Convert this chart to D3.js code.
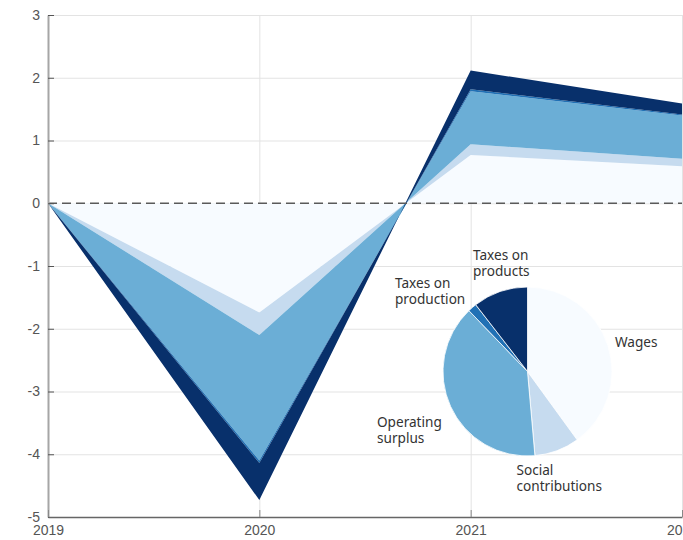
<!DOCTYPE html>
<html>
<head>
<meta charset="utf-8">
<script src="https://cdn.jsdelivr.net/npm/d3@7"></script>
<style>
  body { margin: 0; background: #fff; }
  svg { display: block; font-family: "Noto Sans", "Open Sans", sans-serif; }
</style>
</head>
<body>
<svg id="chart" width="683" height="540"></svg>
<script>
// contributions to GDP growth, percentage points
var years = [2019, 2020, 2021, 2022];
var wages = [0, -1.74, 0.77, 0.59];
var socialContributions = [0, -0.36, 0.17, 0.12];
var operatingSurplus = [0, -2.00, 0.845, 0.69];
var taxesOnProduction = [0, -0.04, 0.03, 0.015];
var taxesOnProducts = [0, -0.59, 0.30, 0.175];

var seriesNames = ["Wages", "Social contributions", "Operating surplus", "Taxes on production", "Taxes on products"];
var seriesColors = ["#f7fbff", "#c6dbef", "#6baed6", "#2171b5", "#08306b"];

// pie: shares of income, percent
var pieShares = [40.0, 8.6, 39.2, 1.7, 10.5];
var pieLabels = [
    ["Wages"],
    ["Social", "contributions"],
    ["Operating", "surplus"],
    ["Taxes on", "production"],
    ["Taxes on", "products"]
];
var yTicks = [-5, -4, -3, -2, -1, 0, 1, 2, 3];

var svg = d3.select("#chart");

var x = d3.scaleLinear().domain([2019, 2022]).range([48, 682]);
var y = d3.scaleLinear().domain([-5, 3]).range([517, 15]);

var table = years.map(function (yr, i) {
    return {
        year: yr,
        "Wages": wages[i],
        "Social contributions": socialContributions[i],
        "Operating surplus": operatingSurplus[i],
        "Taxes on production": taxesOnProduction[i],
        "Taxes on products": taxesOnProducts[i]
    };
});

// grid
svg.append("g")
    .attr("class", "grid-y")
    .attr("transform", "translate(48,0)")
    .call(d3.axisLeft(y).tickValues(yTicks).tickSize(-(682 - 48)).tickFormat(""))
    .call(function (g) { g.select(".domain").remove(); })
    .selectAll("line").attr("stroke", "#e3e3e3").attr("stroke-width", 1);

svg.append("g")
    .attr("class", "grid-x")
    .attr("transform", "translate(0,517)")
    .call(d3.axisBottom(x).tickValues(years.slice(1)).tickSize(-(517 - 15)).tickFormat(""))
    .call(function (g) { g.select(".domain").remove(); })
    .selectAll("line").attr("stroke", "#e3e3e3").attr("stroke-width", 1);

// stacked areas; each band runs from its edge nearer zero to the outer edge
var stack = d3.stack()
    .keys(seriesNames)
    .offset(d3.stackOffsetDiverging);

var layers = stack(table);

function inner(d) { return Math.abs(d[0]) <= Math.abs(d[1]) ? d[0] : d[1]; }
function outer(d) { return Math.abs(d[0]) <= Math.abs(d[1]) ? d[1] : d[0]; }

var area = d3.area()
    .x(function (d) { return x(d.data.year); })
    .y0(function (d) { return y(inner(d)); })
    .y1(function (d) { return y(outer(d)); });

svg.append("g")
    .attr("class", "areas")
    .selectAll("path")
    .data(layers)
    .enter()
    .append("path")
    .attr("d", area)
    .attr("fill", function (d, i) { return seriesColors[i]; });

// zero line
svg.append("line")
    .attr("x1", x(2019)).attr("x2", x(2022))
    .attr("y1", y(0)).attr("y2", y(0))
    .attr("stroke", "#5a5a5a")
    .attr("stroke-width", 1.5)
    .attr("stroke-dasharray", "9,5");

// axes
var yAxis = svg.append("g")
    .attr("transform", "translate(48,0)")
    .call(d3.axisLeft(y).tickValues(yTicks).tickFormat(function (d) { return String(d); })
        .tickSizeInner(-6).tickSizeOuter(0).tickPadding(8));
yAxis.select(".domain").attr("stroke", "#a6a6a6").attr("stroke-width", 2);
yAxis.selectAll(".tick line").attr("stroke", "#555");
yAxis.selectAll("text").attr("fill", "#555").style("font-size", "14px");

var xAxis = svg.append("g")
    .attr("transform", "translate(0,517)")
    .call(d3.axisBottom(x).tickValues(years).tickFormat(d3.format("d")).tickSizeInner(-7).tickSizeOuter(0).tickPadding(8));
xAxis.select(".domain").attr("stroke", "#666").attr("stroke-width", 1.5);
xAxis.selectAll(".tick line").attr("stroke", "#888");
xAxis.selectAll("text").attr("fill", "#555").style("font-size", "14px");

// pie
var pie = d3.pie().sort(null);
var arc = d3.arc().innerRadius(0).outerRadius(84.5);

var pieG = svg.append("g")
    .attr("transform", "translate(527.5,371.5)");

pieG.selectAll("path")
    .data(pie(pieShares))
    .enter()
    .append("path")
    .attr("d", arc)
    .attr("fill", function (d, i) { return seriesColors[i]; })
    .attr("stroke", "#fff")
    .attr("stroke-width", 0.8);

// pie labels, placed beside their slices
var labelPos = [
    [615, 347],
    [516.5, 475],
    [377, 427],
    [395, 287.5],
    [473, 260]
];

var labels = svg.append("g")
    .attr("class", "pie-labels")
    .style("font-size", "13.6px")
    .attr("fill", "#333");

pieLabels.forEach(function (lines, i) {
    var t = labels.append("text")
        .attr("x", labelPos[i][0])
        .attr("y", labelPos[i][1]);
    lines.forEach(function (s, j) {
        t.append("tspan")
            .attr("x", labelPos[i][0])
            .attr("dy", j === 0 ? 0 : 16)
            .text(s);
    });
});
</script>
</body>
</html>
